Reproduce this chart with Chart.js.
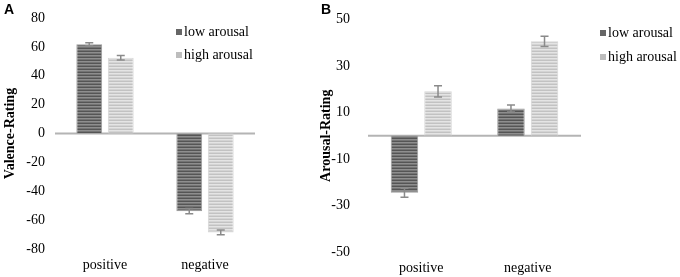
<!DOCTYPE html>
<html>
<head>
<meta charset="utf-8">
<script src="https://cdn.jsdelivr.net/npm/chart.js@4"></script>
<style>
  body { margin: 0; background: #fff; }
  #wrap { position: relative; width: 680px; height: 277px; overflow: hidden; }
  canvas { position: absolute; top: 0; }
  .panel { position: absolute; top: 2px; font: bold 14px "Liberation Sans", Arial, sans-serif; line-height: 14px; color: #000; }
</style>
</head>
<body>
<div id="wrap">
  <canvas id="valenceChart" width="320" height="277" style="left:0"></canvas>
  <canvas id="arousalChart" width="362" height="277" style="left:318px"></canvas>
  <div class="panel" style="left:4px">A</div>
  <div class="panel" style="left:321px">B</div>
</div>
<script>
const categories = ['positive', 'negative'];
const seriesNames = ['low arousal', 'high arousal'];

// panel A
const valenceLow = [61.8, -53.8];
const valenceLowErr = [1.1, 1.8];
const valenceHigh = [52.5, -68.5];
const valenceHighErr = [1.6, 1.7];

// panel B
const arousalLow = [-24.5, 11.7];
const arousalLowErr = [1.9, 1.5];
const arousalHigh = [19.1, 40.6];
const arousalHighErr = [2.4, 2.2];

const serif = '"Liberation Serif", "Times New Roman", serif';

function stripes(colors) {
    const c = document.createElement('canvas');
    c.width = 4;
    c.height = colors.length;
    const g = c.getContext('2d');
    colors.forEach((col, i) => {
        g.fillStyle = col;
        g.fillRect(0, i, 4, 1);
    });
    return g.createPattern(c, 'repeat');
}

const darkFill = stripes(['#555555', '#8e8e8e', '#747474']);
const lightFill = stripes(['#c2c2c2', '#e4e4e4', '#d4d4d4']);

const zeroLine = {
    id: 'zeroLine',
    beforeDatasetsDraw(chart) {
        const { ctx, chartArea, scales } = chart;
        const y = scales.y.getPixelForValue(0);
        ctx.save();
        ctx.strokeStyle = '#b4b4b4';
        ctx.lineWidth = 2;
        ctx.beginPath();
        ctx.moveTo(chartArea.left, y);
        ctx.lineTo(chartArea.right, y);
        ctx.stroke();
        ctx.restore();
    }
};

const errorBars = {
    id: 'errorBars',
    afterDatasetsDraw(chart) {
        const { ctx, scales } = chart;
        ctx.save();
        ctx.strokeStyle = '#8a8a8a';
        ctx.lineWidth = 1.5;
        chart.data.datasets.forEach((ds, i) => {
            chart.getDatasetMeta(i).data.forEach((bar, j) => {
                const v = ds.data[j];
                const e = ds.errors[j];
                const top = scales.y.getPixelForValue(v + e);
                const bot = scales.y.getPixelForValue(v - e);
                ctx.beginPath();
                ctx.moveTo(bar.x, top);
                ctx.lineTo(bar.x, bot);
                ctx.moveTo(bar.x - 4, top);
                ctx.lineTo(bar.x + 4, top);
                ctx.moveTo(bar.x - 4, bot);
                ctx.lineTo(bar.x + 4, bot);
                ctx.stroke();
            });
        });
        ctx.restore();
    }
};

// small square legend, placed freely (panel A has it inside the plot)
const boxLegend = {
    id: 'boxLegend',
    afterDraw(chart, args, opts) {
        const ctx = chart.ctx;
        ctx.save();
        ctx.font = '14px ' + serif;
        ctx.textBaseline = 'middle';
        chart.data.datasets.forEach((ds, i) => {
            const y = opts.y + i * opts.gap;
            ctx.fillStyle = ds.swatch;
            ctx.fillRect(opts.x, y - 3, 6, 6);
            ctx.fillStyle = '#000';
            ctx.fillText(ds.label, opts.x + 8, y);
        });
        ctx.restore();
    }
};

function buildChart(id, cfg) {
    return new Chart(document.getElementById(id), {
        type: 'bar',
        data: {
            labels: categories,
            datasets: [
                {
                    label: seriesNames[0],
                    data: cfg.low,
                    errors: cfg.lowErr,
                    backgroundColor: darkFill,
                    borderColor: '#9c9c9c',
                    borderWidth: 1,
                    swatch: '#666'
                },
                {
                    label: seriesNames[1],
                    data: cfg.high,
                    errors: cfg.highErr,
                    backgroundColor: lightFill,
                    borderColor: '#d6d6d6',
                    borderWidth: 1,
                    swatch: '#bdbdbd'
                }
            ]
        },
        options: {
            responsive: false,
            animation: false,
            categoryPercentage: 0.63,
            barPercentage: 0.82,
            layout: { padding: { top: cfg.topPad, right: cfg.rightPad, bottom: 0, left: 0 } },
            plugins: {
                legend: { display: false },
                tooltip: { enabled: false },
                boxLegend: cfg.legend
            },
            scales: {
                x: {
                    grid: { display: false, drawTicks: false },
                    border: { display: false },
                    ticks: { color: '#000', padding: 8, font: { family: serif, size: 14 } },
                    afterFit(s) { s.height = cfg.xHeight; }
                },
                y: {
                    min: cfg.min,
                    max: cfg.max,
                    grid: { display: false, drawTicks: false },
                    border: { display: false },
                    ticks: { stepSize: 20, color: '#000', padding: cfg.tickPad, font: { family: serif, size: 14 } },
                    title: {
                        display: true,
                        text: cfg.title,
                        color: '#000',
                        padding: { top: cfg.titlePad, bottom: 0 },
                        font: { family: serif, size: 14, weight: 'bold' }
                    },
                    afterFit(s) {
                        s.width = cfg.yWidth;
                        // tick padding would otherwise push the plot area in
                        s.paddingTop = 0;
                        s.paddingBottom = 0;
                    }
                }
            }
        },
        plugins: [zeroLine, errorBars, boxLegend]
    });
}

buildChart('valenceChart', {
    low: valenceLow, lowErr: valenceLowErr,
    high: valenceHigh, highErr: valenceHighErr,
    min: -80, max: 80,
    title: 'Valence-Rating',
    topPad: 18, yWidth: 55, xHeight: 28, rightPad: 65, tickPad: 10, titlePad: 2,
    legend: { x: 176, y: 32, gap: 23 }
});

buildChart('arousalChart', {
    low: arousalLow, lowErr: arousalLowErr,
    high: arousalHigh, highErr: arousalHighErr,
    min: -50, max: 50,
    title: 'Arousal-Rating',
    topPad: 19.5, yWidth: 50, xHeight: 25, rightPad: 99, tickPad: 18, titlePad: 0,
    legend: { x: 282, y: 33, gap: 24 }
});
</script>
</body>
</html>
